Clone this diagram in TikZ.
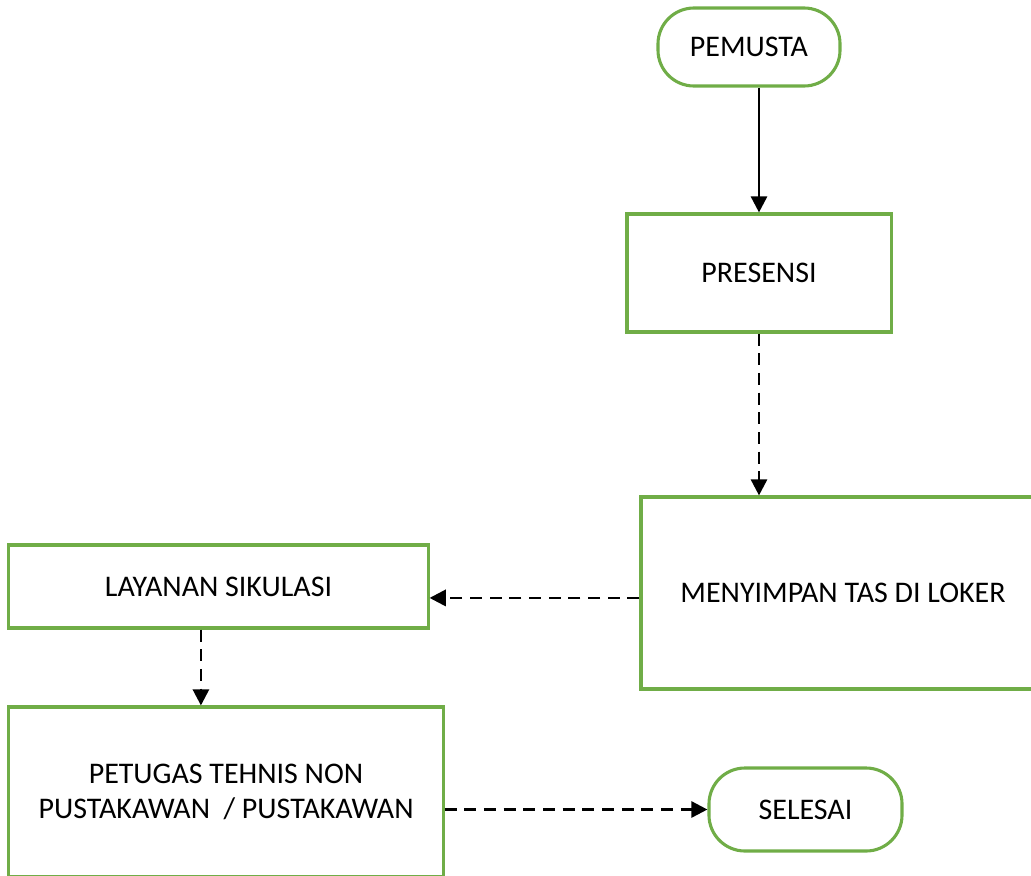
\documentclass[tikz,border=0pt]{standalone}
\usepackage{fontspec}
\setmainfont{Carlito}
\usetikzlibrary{positioning, arrows.meta}
\definecolor{boxgreen}{HTML}{70AD47}

\begin{document}
\begin{tikzpicture}[
      x=0.025cm, y=-0.025cm,
      every node/.style={font=\fontsize{21.3}{25}\selectfont, align=center},
      stepbox/.style={draw=boxgreen, line width=2.2pt, fill=white},
      terminal/.style={stepbox, rounded corners=0.9cm},
      flow/.style={-{Triangle[length=11.5pt, width=11.5pt]}, line width=1.9pt},
      dashflow/.style={flow, dash pattern=on 8.5pt off 5.5pt},
    ]
    \useasboundingbox (0,0) rectangle (1031,875);

    % Start
    \node[terminal, minimum width=4.55cm, minimum height=1.95cm] (pemusta) at (749, 47) {PEMUSTA};

    % Steps
    \node[stepbox, minimum width=6.6cm, minimum height=2.95cm] (presensi) at (759, 273) {PRESENSI};
    \node[stepbox, minimum width=10.1cm, minimum height=4.8cm] (loker) at (843, 593) {MENYIMPAN TAS DI LOKER};
    \node[stepbox, minimum width=10.475cm, minimum height=2.075cm] (layanan) at (218.5, 586.5) {LAYANAN SIKULASI};
    \node[stepbox, minimum width=10.85cm, minimum height=4.25cm] (petugas) at (226, 792)
      {PETUGAS TEHNIS NON\\PUSTAKAWAN\ \ / PUSTAKAWAN};

    % End
    \node[terminal, minimum width=4.825cm, minimum height=2.075cm] (selesai) at (805.5, 809.5) {SELESAI};

    % Connectors
    \draw[flow] (presensi.north |- pemusta.south) -- (presensi.north);
    \draw[dashflow] (presensi.south) -- (presensi.south |- loker.north);
    \coordinate (lk) at ([yshift=-3.5pt]loker.west);
    \draw[dashflow] (lk) -- (lk -| layanan.east);
    \coordinate (ly) at ([xshift=-12.5pt]layanan.south);
    \draw[dashflow] (ly) -- (ly |- petugas.north);
    \draw[dashflow] (petugas.east |- selesai.west) -- (selesai.west);
  \end{tikzpicture}
\end{document}
